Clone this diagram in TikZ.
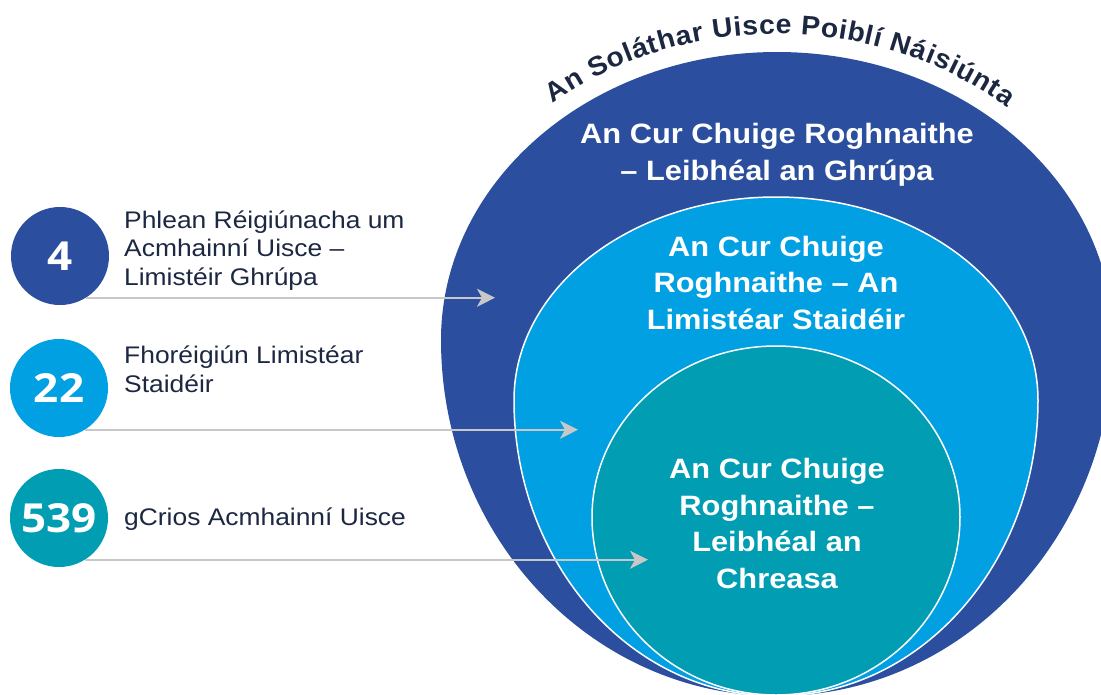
\documentclass[tikz,border=0pt]{standalone}
\usepackage{fontspec}
\setmainfont{Liberation Sans}[FakeStretch=1.1]
\newfontfamily\numfont{Open Sans}[FakeStretch=1.1]
\newfontfamily\arcfont{Liberation Sans}[FakeStretch=1.05]
\usetikzlibrary{arrows.meta,decorations.text,calc}
\definecolor{cdark}{HTML}{2B4F9E}
\definecolor{clight}{HTML}{00A0E3}
\definecolor{cteal}{HTML}{009DB3}
\definecolor{cnavy}{HTML}{1C2742}
\definecolor{carrow}{HTML}{C8C8C8}
\newcommand\eggpath[5]{({#1-#3},#2) .. controls ({#1-#3},{#2-0.5523*#4}) and ({#1-0.5523*#3},{#2-#4}) .. (#1,{#2-#4})
 .. controls ({#1+0.5523*#3},{#2-#4}) and ({#1+#3},{#2-0.5523*#4}) .. ({#1+#3},#2)
 .. controls ({#1+#3},{#2+0.5523*#5}) and ({#1+0.5523*#3},{#2+#5}) .. (#1,{#2+#5})
 .. controls ({#1-0.5523*#3},{#2+#5}) and ({#1-#3},{#2+0.5523*#5}) .. cycle}
\tikzset{
  numcircle/.style={circle, minimum size=98pt, inner sep=0pt, text=white, font=\numfont\bfseries\fontsize{40}{40}\selectfont},
  label/.style={anchor=base west, align=left, text=cnavy, inner sep=0pt, font=\fontsize{24}{28.5}\selectfont},
  intext/.style={anchor=base, align=center, text=white, inner sep=0pt, font=\bfseries\fontsize{28}{36.5}\selectfont},
  pointer/.style={draw=carrow, line width=2pt, -{Stealth[length=18pt,width=18pt,inset=5pt]}},
  ring/.style={draw=white, line width=1.5pt}
}
\begin{document}
\begin{tikzpicture}[x=1pt,y=-1pt]
\useasboundingbox (0,0) rectangle (1101,694);
% nested regions
\fill[cdark] \eggpath{777}{340}{336}{288}{356};
\filldraw[fill=clight, ring] \eggpath{776}{400}{262}{203}{296};
\filldraw[fill=cteal, ring] \eggpath{776}{517}{184}{171}{178};
% arc title
\path[decorate, decoration={text along path, text align={fit to path},
  text={|\color{cnavy}\arcfont\bfseries\fontsize{27}{27}\selectfont|An Soláthar Uisce Poiblí Náisiúnta}}]
  ({777+354*cos(-129.3)},{340+306*sin(-129.3)}) arc[start angle=-129.3, end angle=-49.5, x radius=354, y radius=306];
% texts inside (anchor = baseline of last line)
\node[intext] (tdark) at (777,180) {An Cur Chuige Roghnaithe\\– Leibhéal an Ghrúpa};
\node[intext] (tlight) at (776,329) {An Cur Chuige\\Roghnaithe – An\\Limistéar Staidéir};
\node[intext] (tteal) at (777,588) {An Cur Chuige\\Roghnaithe –\\Leibhéal an\\Chreasa};
% number circles
\node[numcircle, fill=cdark] (n1) at (60,256) {4};
\node[numcircle, fill=clight] (n2) at (59,388) {22};
\node[numcircle, fill=cteal] (n3) at (59,518) {539};
% labels
\node[label] (l1) at (124,285) {Phlean Réigiúnacha um\\Acmhainní Uisce –\\Limistéir Ghrúpa};
\node[label] (l2) at (124,392) {Fhoréigiún Limistéar\\Staidéir};
\node[label] (l3) at (124,525) {gCrios Acmhainní Uisce};
% arrow ends
\coordinate (t1) at (495,297);
\coordinate (t2) at (578,430);
\coordinate (t3) at (648,560);
\draw[pointer] (n1.-58) -- (n1.-58 -| t1);
\draw[pointer] (n2.-58) -- (n2.-58 -| t2);
\draw[pointer] (n3.-58) -- (n3.-58 -| t3);
\end{tikzpicture}
\end{document}
